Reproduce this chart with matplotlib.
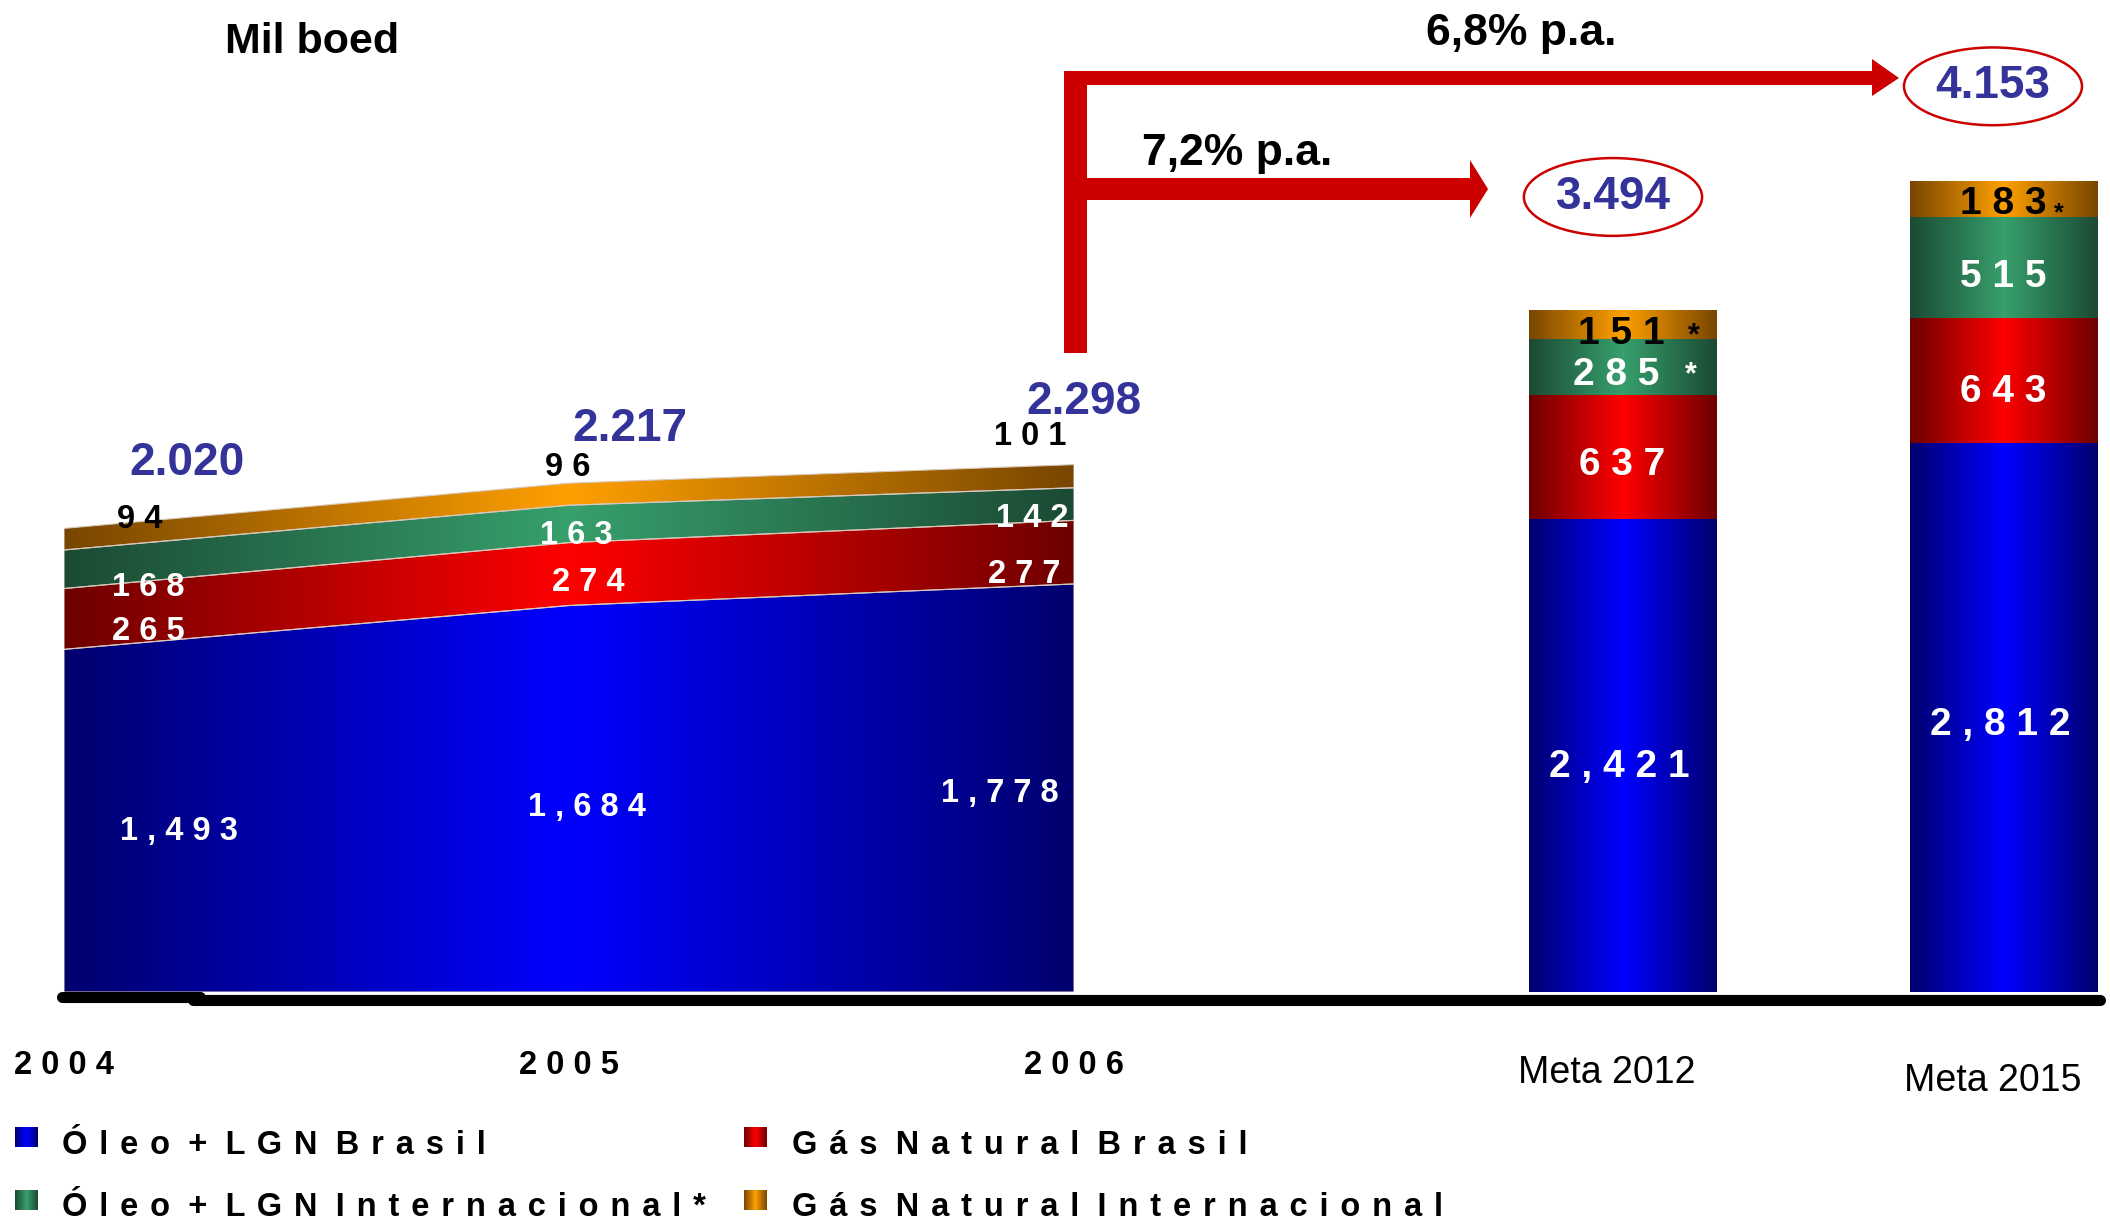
import numpy as np
import matplotlib
matplotlib.use("Agg")
import matplotlib.pyplot as plt
from matplotlib.colors import to_rgb
from matplotlib.patches import Polygon, Rectangle
from matplotlib import font_manager as fm

# ---------------- data (mil boed) ----------------
years = ["2004", "2005", "2006"]
oleo_br = [1493, 1684, 1778]
gas_br = [265, 274, 277]
oleo_int = [168, 163, 142]
gas_int = [94, 96, 101]

metas = ["Meta 2012", "Meta 2015"]
meta_oleo_br = [2421, 2812]
meta_gas_br = [637, 643]
meta_oleo_int = [285, 515]
meta_gas_int = [151, 183]
meta_starred = [[False, False, True, True], [False, False, False, True]]

series_names = ["Óleo + LGN Brasil", "Gás Natural Brasil",
                "Óleo + LGN Internacional*", "Gás Natural Internacional"]
growth_labels = ["7,2% p.a.", "6,8% p.a."]
unit_label = "Mil boed"

# ---------------- styling ----------------
W, H, DPI = 2110, 1219, 100
DARK = ["#00006e", "#6e0000", "#1b4a34", "#784600"]
BRIGHT = ["#0000ff", "#ff0000", "#37a06c", "#ffa000"]
SEG_TEXT = ["white", "white", "white", "black"]
TOTAL_COLOR = "#333399"
ARROW_RED = "#cc0000"


def has_font(name):
    try:
        fm.findfont(fm.FontProperties(family=name), fallback_to_default=False)
        return True
    except Exception:
        return False


SANS = "Liberation Sans"
NARROW = "Liberation Sans Narrow" if has_font("Liberation Sans Narrow") else SANS
plt.rcParams["font.family"] = [SANS, "DejaVu Sans"]


def track(text, gap=" ", word_gap=None):
    """Letter-spaced text, as used on the slide."""
    if word_gap is None:
        word_gap = gap
    return word_gap.join(gap.join(w) for w in text.split(" "))


def num_label(v):
    return track(f"{v:,}")


def total_label(v):
    return f"{v:,}".replace(",", ".")


def gradient(dark, bright, n=256):
    t = np.linspace(0.0, 1.0, n)
    w = 1.0 - np.abs(t - 0.5) / 0.5
    c0, c1 = np.array(to_rgb(dark)), np.array(to_rgb(bright))
    img = c0[None, :] * (1 - w[:, None]) + c1[None, :] * w[:, None]
    return img[None, :, :]


fig = plt.figure(figsize=(W / DPI, H / DPI), dpi=DPI)
fig.patch.set_facecolor("white")

BASE_PX = 992          # baseline, pixels from top
AREA_L, AREA_R = 64, 1074
AREA_SCALE = 0.2295    # px per mil boed (historical panel)
BAR_SCALE = 0.1952     # px per mil boed (targets panel)

# ---------------- historical stacked area ----------------
ax1 = fig.add_axes([AREA_L / W, (H - BASE_PX) / H, (AREA_R - AREA_L) / W, BASE_PX / H],
                   zorder=1)
ax1.patch.set_visible(False)
ax1.axis("off")
Y1 = BASE_PX / AREA_SCALE

xa = np.arange(len(years))
stack = np.vstack([oleo_br, gas_br, oleo_int, gas_int]).astype(float)
cum = np.cumsum(stack, axis=0)
lower = np.vstack([np.zeros(len(years)), cum[:-1]])

for k in range(4):
    poly = ax1.fill_between(xa, lower[k], cum[k], facecolor="none",
                            edgecolor="#d8c8bc", linewidth=0.8, zorder=3)
    im = ax1.imshow(gradient(DARK[k], BRIGHT[k]), extent=(0, 2, 0, Y1),
                    aspect="auto", interpolation="bilinear", zorder=2)
    im.set_clip_path(poly.get_paths()[0], transform=ax1.transData)

# segment label offsets (pixels) relative to each segment middle
area_off = [
    [(115, -11), (18, -9), (-74, -6)],
    [(84, -13), (19, -8), (-50, -22)],
    [(84, -18), (7, -12), (-42, -14)],
    [(76, 20), (-1, 27), (-44, 40)],
]
for k in range(4):
    for i in range(len(years)):
        mid = (lower[k, i] + cum[k, i]) / 2
        ax1.annotate(num_label(int(stack[k, i])), (xa[i], mid), xytext=area_off[k][i],
                     textcoords="offset pixels", ha="center", va="center",
                     fontsize=23.5, fontweight="bold", color=SEG_TEXT[k],
                     annotation_clip=False, zorder=6)

total_off = [(123, 65), (61, 54), (10, 63)]
for i in range(len(years)):
    ax1.annotate(total_label(int(cum[-1, i])), (xa[i], cum[-1, i]), xytext=total_off[i],
                 textcoords="offset pixels", ha="center", va="center",
                 fontsize=33, fontweight="bold", color=TOTAL_COLOR,
                 annotation_clip=False, zorder=6)
    ax1.annotate(track(years[i]), (xa[i], 0), xytext=(0, -73),
                 textcoords="offset pixels", ha="center", va="center",
                 fontsize=23.5, fontweight="bold", color="black",
                 annotation_clip=False, zorder=6)

ax1.set_xlim(0, 2)
ax1.set_ylim(0, Y1)

# ---------------- target stacked bars ----------------
B_LEFT = 1430
BAR_C0, BAR_PITCH, BAR_W = 1623, 381, 188
ax2 = fig.add_axes([B_LEFT / W, (H - BASE_PX) / H, (W - B_LEFT) / W, BASE_PX / H], zorder=2)
ax2.patch.set_visible(False)
ax2.axis("off")
Y2 = BASE_PX / BAR_SCALE

xb = np.arange(len(metas))
bstack = np.vstack([meta_oleo_br, meta_gas_br, meta_oleo_int, meta_gas_int]).astype(float)
bcum = np.cumsum(bstack, axis=0)
blower = np.vstack([np.zeros(len(metas)), bcum[:-1]])
bw = BAR_W / BAR_PITCH

for k in range(4):
    rects = ax2.bar(xb, bstack[k], bottom=blower[k], width=bw, color="none",
                    linewidth=0, zorder=3)
    for r in rects:
        im = ax2.imshow(gradient(DARK[k], BRIGHT[k]),
                        extent=(r.get_x(), r.get_x() + r.get_width(),
                                r.get_y(), r.get_y() + r.get_height()),
                        aspect="auto", interpolation="bilinear", zorder=2)
        im.set_clip_path(r)

bar_off = [
    [(-4, -11), (-4, -7)],
    [(-1, -8), (-1, -12)],
    [(-7, -8), (-1, -10)],
    [(-2, -9), (-1, -5)],
]
star_off = [None, None, [(68, -8), None], [(71, -12), (55, -14)]]
star_size = [22, 18]
for k in range(4):
    for i in range(len(metas)):
        mid = (blower[k, i] + bcum[k, i]) / 2
        ax2.annotate(num_label(int(bstack[k, i])), (xb[i], mid), xytext=bar_off[k][i],
                     textcoords="offset pixels", ha="center", va="center",
                     fontsize=28, fontweight="bold", family=[NARROW, SANS],
                     color=SEG_TEXT[k], annotation_clip=False, zorder=6)
        if meta_starred[i][k]:
            ax2.annotate("*", (xb[i], mid), xytext=star_off[k][i],
                         textcoords="offset pixels", ha="center", va="center",
                         fontsize=star_size[i], fontweight="bold",
                         color=SEG_TEXT[k], annotation_clip=False, zorder=6)

btotal_off = [(-10, 113), (-11, 95)]
meta_off = [(-16, -81), (-11, -89)]
for i in range(len(metas)):
    ax2.annotate(total_label(int(bcum[-1, i])), (xb[i], bcum[-1, i]), xytext=btotal_off[i],
                 textcoords="offset pixels", ha="center", va="center",
                 fontsize=33, fontweight="bold", color=TOTAL_COLOR,
                 bbox=dict(boxstyle="ellipse,pad=0.12", facecolor="none",
                           edgecolor=ARROW_RED, linewidth=1.8),
                 annotation_clip=False, zorder=6)
    ax2.annotate(metas[i], (xb[i], 0), xytext=meta_off[i],
                 textcoords="offset pixels", ha="center", va="center",
                 fontsize=27, color="black", annotation_clip=False, zorder=6)

ax2.set_xlim((B_LEFT - BAR_C0) / BAR_PITCH, (W - BAR_C0) / BAR_PITCH)
ax2.set_ylim(0, Y2)

# ---------------- overlay: arrows, baseline, legend, titles ----------------
ov = fig.add_axes([0, 0, 1, 1], zorder=5)
ov.patch.set_visible(False)
ov.axis("off")
ov.set_xlim(0, W)
ov.set_ylim(H, 0)

# growth arrows
ov.add_patch(Rectangle((1064, 71), 23, 282, facecolor=ARROW_RED, edgecolor="none"))
ov.add_patch(Rectangle((1064, 71), 1872 - 1064, 14, facecolor=ARROW_RED, edgecolor="none"))
ov.add_patch(Polygon([(1872, 59), (1899, 78), (1872, 96)], closed=True,
                     facecolor=ARROW_RED, edgecolor="none"))
ov.add_patch(Rectangle((1087, 178), 1470 - 1087, 22, facecolor=ARROW_RED, edgecolor="none"))
ov.add_patch(Polygon([(1470, 160), (1488, 189), (1470, 218)], closed=True,
                     facecolor=ARROW_RED, edgecolor="none"))
ov.text(1237, 153, growth_labels[0], ha="center", va="center", fontsize=32,
        fontweight="bold", color="black")
ov.text(1521, 33, growth_labels[1], ha="center", va="center", fontsize=32,
        fontweight="bold", color="black")

# unit title
ov.text(312, 42, unit_label, ha="center", va="center", fontsize=31,
        fontweight="bold", color="black")

# baseline
ov.plot([62, 200], [997, 997], color="black", linewidth=8, solid_capstyle="round")
ov.plot([193, 2100], [1000, 1000], color="black", linewidth=8, solid_capstyle="round")

# legend
legend_pos = [(15, 62, 1127, 1154), (744, 792, 1127, 1154),
              (15, 62, 1190, 1216), (744, 792, 1190, 1216)]
legend_order = [0, 1, 2, 3]
for (mx, tx, my, ty), k in zip(legend_pos, legend_order):
    sq = Rectangle((mx, my), 23, 20, facecolor="none", edgecolor="none")
    ov.add_patch(sq)
    im = ov.imshow(gradient(DARK[k], BRIGHT[k]), extent=(mx, mx + 23, my + 20, my),
                   aspect="auto", interpolation="bilinear", zorder=2)
    im.set_clip_path(sq)
    ov.text(tx, ty, track(series_names[k], " \u200a", "  "), ha="left",
            va="baseline", fontsize=23.5, fontweight="bold", color="black")

ov.set_xlim(0, W)
ov.set_ylim(H, 0)

fig.savefig("out.png", dpi=DPI, facecolor="white")
